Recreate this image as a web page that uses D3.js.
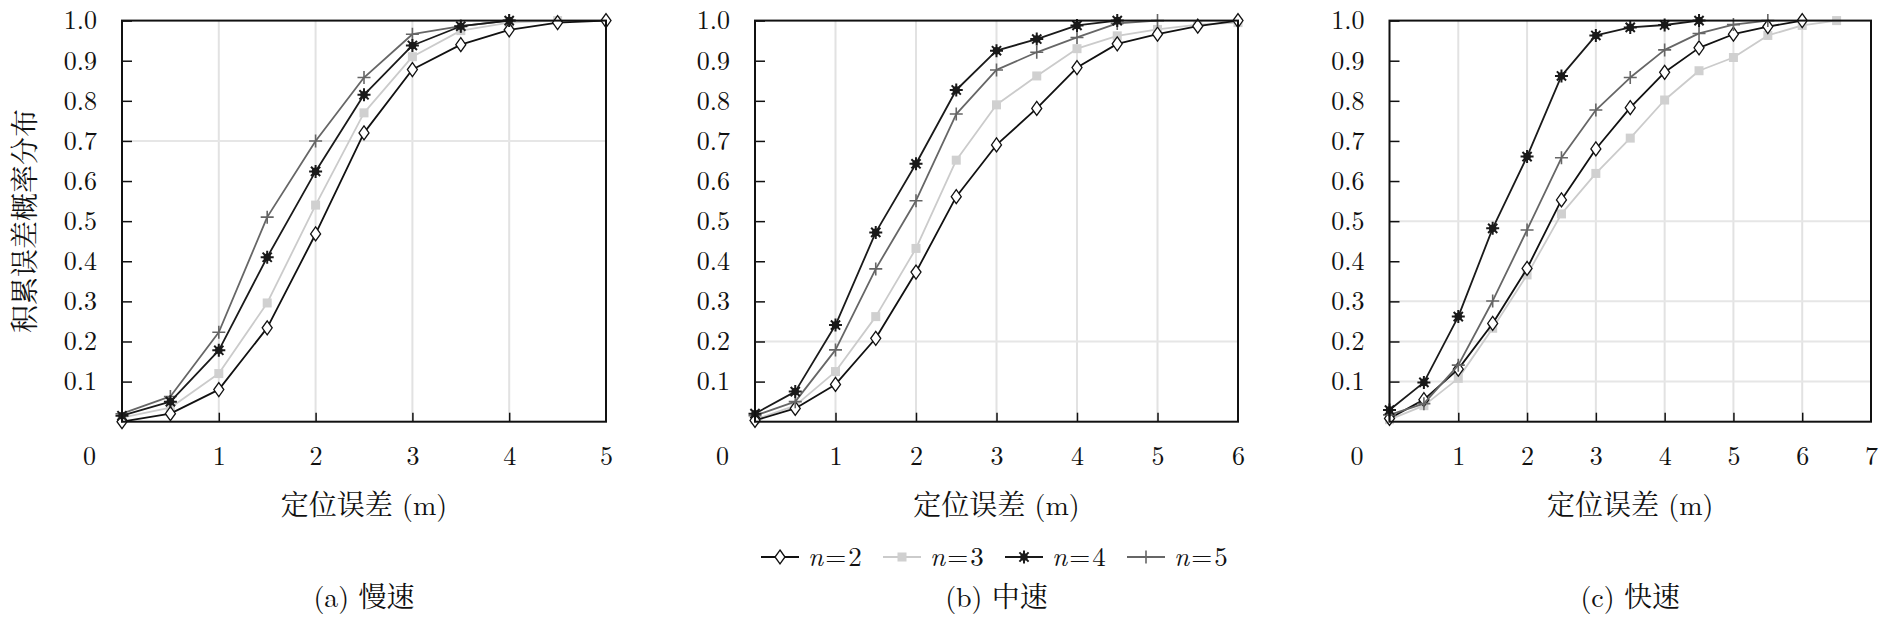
<!DOCTYPE html>
<html>
<head>
<meta charset="utf-8">
<script src="https://cdn.jsdelivr.net/npm/d3@7/dist/d3.min.js"></script>
<style>
  html, body { margin: 0; padding: 0; background: #ffffff; }
  svg { display: block; }
</style>
</head>
<body>
<svg id="chart" width="1890" height="620"></svg>
<script>
// ---------------- data ----------------
const errorSteps = [0, 0.5, 1, 1.5, 2, 2.5, 3, 3.5, 4, 4.5, 5, 5.5, 6, 6.5, 7];
const seriesNames = ["n=2", "n=3", "n=4", "n=5"];
const yTickValues = [0.1, 0.2, 0.3, 0.4, 0.5, 0.6, 0.7, 0.8, 0.9, 1.0];

const panelTitles = ["(a) 慢速", "(b) 中速", "(c) 快速"];
const panelXMax = [5, 6, 7];
const xAxisTitle = "定位误差 (m)";
const yAxisTitle = "积累误差概率分布";

// 慢速
const slowN2 = [0.00, 0.02, 0.08, 0.234, 0.468, 0.72, 0.878, 0.94, 0.977, 0.995, 1.0];
const slowN3 = [0.01, 0.035, 0.12, 0.296, 0.54, 0.77, 0.91, 0.975, 0.995, 1.0];
const slowN4 = [0.015, 0.05, 0.178, 0.41, 0.624, 0.815, 0.938, 0.986, 1.0];
const slowN5 = [0.02, 0.063, 0.223, 0.51, 0.70, 0.858, 0.966, 0.986, 1.0];
// 中速
const midN2 = [0.003, 0.033, 0.093, 0.208, 0.373, 0.561, 0.69, 0.781, 0.883, 0.942, 0.966, 0.986, 1.0];
const midN3 = [0.005, 0.04, 0.125, 0.262, 0.432, 0.652, 0.79, 0.862, 0.93, 0.962, 0.978, 0.99, 0.995];
const midN4 = [0.02, 0.075, 0.241, 0.472, 0.643, 0.827, 0.925, 0.954, 0.988, 1.0];
const midN5 = [0.015, 0.05, 0.179, 0.381, 0.551, 0.767, 0.877, 0.921, 0.958, 0.993, 1.0];
// 快速
const fastN2 = [0.008, 0.055, 0.131, 0.245, 0.382, 0.553, 0.68, 0.783, 0.871, 0.932, 0.966, 0.985, 1.0];
const fastN3 = [0.005, 0.04, 0.108, 0.233, 0.366, 0.518, 0.619, 0.707, 0.802, 0.875, 0.908, 0.963, 0.988, 1.0];
const fastN4 = [0.029, 0.098, 0.262, 0.482, 0.661, 0.862, 0.963, 0.983, 0.989, 1.0];
const fastN5 = [0.017, 0.045, 0.141, 0.301, 0.478, 0.658, 0.777, 0.858, 0.927, 0.968, 0.99, 1.0];

// faint horizontal grid levels visible in each panel
const gridA = [0.7];
const gridB = [0.2];
const gridC = [0.1, 0.2, 0.3, 0.5];

const panelSeries = [
  [slowN2, slowN3, slowN4, slowN5],
  [midN2, midN3, midN4, midN5],
  [fastN2, fastN3, fastN4, fastN5]
];
const panelGrids = [gridA, gridB, gridC];

// ---------------- layout & style ----------------
const layout = [
  { left: 122, right: 606 },
  { left: 755, right: 1238 },
  { left: 1389.5, right: 1871 }
];
const plotTop = 20.6, plotBottom = 421.7;
const SERIF = "'Latin Modern Roman', 'CMU Serif', 'Liberation Serif', 'DejaVu Serif', 'Times New Roman', serif";
const CJK = "'Latin Modern Roman', 'CMU Serif', 'Liberation Serif', 'DejaVu Serif', 'Noto Serif CJK SC', 'Noto Sans CJK SC', serif";

const styles = [
  { stroke: "#111111", width: 1.8, marker: "diamond" },   // n=2
  { stroke: "#cbcbcb", width: 1.8, marker: "square" },    // n=3
  { stroke: "#1a1a1a", width: 1.8, marker: "star" },      // n=4
  { stroke: "#666666", width: 1.8, marker: "plus" }       // n=5
];
const drawOrder = [1, 0, 3, 2];

const svg = d3.select("#chart");

function drawMarker(g, type, cx, cy, color) {
  const m = g.append("g").attr("transform", `translate(${cx},${cy})`);
  if (type === "diamond") {
    m.append("path").attr("d", "M0,-7L5,0L0,7L-5,0Z")
      .attr("fill", "#ffffff").attr("stroke", color).attr("stroke-width", 1.3);
  } else if (type === "square") {
    m.append("rect").attr("x", -4.5).attr("y", -4.5).attr("width", 9).attr("height", 9)
      .attr("fill", "#d0d0d0").attr("stroke", "none");
  } else if (type === "star") {
    let d = "";
    for (let k = 0; k < 4; k++) {
      const a = k * Math.PI / 4;
      const dx = 6.5 * Math.cos(a), dy = 6.5 * Math.sin(a);
      d += `M${-dx},${-dy}L${dx},${dy}`;
    }
    m.append("path").attr("d", d).attr("stroke", color).attr("stroke-width", 2);
    m.append("circle").attr("r", 3.8).attr("fill", color);
  } else if (type === "plus") {
    m.append("path").attr("d", "M-6.5,0H6.5M0,-6.5V6.5")
      .attr("stroke", color).attr("stroke-width", 1.6);
  }
}

panelSeries.forEach((seriesList, p) => {
  const L = layout[p];
  const x = d3.scaleLinear().domain([0, panelXMax[p]]).range([L.left, L.right]);
  const y = d3.scaleLinear().domain([0, 1]).range([plotBottom, plotTop]);
  const g = svg.append("g");

  // vertical grid
  const xTicks = d3.range(0, panelXMax[p] + 1);
  g.append("g").selectAll("line").data(xTicks.filter(t => t > 0 && t < panelXMax[p]))
    .join("line")
    .attr("x1", d => x(d)).attr("x2", d => x(d))
    .attr("y1", plotTop).attr("y2", plotBottom)
    .attr("stroke", "#e2e2e2").attr("stroke-width", 2);
  // horizontal grid
  g.append("g").selectAll("line").data(panelGrids[p])
    .join("line")
    .attr("x1", L.left).attr("x2", L.right)
    .attr("y1", d => y(d)).attr("y2", d => y(d))
    .attr("stroke", "#e6e6e6").attr("stroke-width", 2);

  // series
  drawOrder.forEach(si => {
    const vals = seriesList[si];
    const pts = vals.map((v, i) => [errorSteps[i], v]);
    const st = styles[si];
    g.append("path")
      .datum(pts)
      .attr("fill", "none")
      .attr("stroke", st.stroke)
      .attr("stroke-width", st.width)
      .attr("stroke-linejoin", "round")
      .attr("d", d3.line().x(d => x(d[0])).y(d => y(d[1])));
    const mg = g.append("g");
    pts.forEach(d => drawMarker(mg, st.marker, x(d[0]), y(d[1]), st.stroke));
  });

  // axes
  const yAxis = d3.axisLeft(y).tickValues(yTickValues).tickFormat(d3.format(".1f"))
    .tickSizeInner(-10).tickSizeOuter(0).tickPadding(25);
  const ya = g.append("g").attr("transform", `translate(${L.left},0)`).call(yAxis);
  ya.attr("font-family", null).attr("font-size", null);
  ya.select(".domain").remove();
  ya.selectAll(".tick line").attr("stroke", "#111").attr("stroke-width", 1.5);
  ya.selectAll("text").style("font-family", SERIF).style("font-size", "26px").attr("fill", "#111");

  const xAxis = d3.axisBottom(x).tickValues(xTicks).tickFormat(d3.format("d"))
    .tickSizeInner(-9).tickSizeOuter(0).tickPadding(25);
  const xa = g.append("g").attr("transform", `translate(0,${plotBottom})`).call(xAxis);
  xa.attr("font-family", null).attr("font-size", null);
  xa.select(".domain").remove();
  xa.selectAll(".tick line").attr("stroke", "#111").attr("stroke-width", 1.5);
  xa.selectAll(".tick").filter(d => d === 0 || d === panelXMax[p]).select("line").remove();
  xa.selectAll("text").style("font-family", SERIF).style("font-size", "26px").attr("fill", "#111");
  xa.selectAll(".tick").filter(d => d === 0).select("text").attr("x", -33);

  // border
  g.append("rect")
    .attr("x", L.left).attr("y", plotTop)
    .attr("width", L.right - L.left).attr("height", plotBottom - plotTop)
    .attr("fill", "none").attr("stroke", "#111").attr("stroke-width", 2);

  const cx = (L.left + L.right) / 2;
  g.append("text")
    .attr("x", cx).attr("y", 515).attr("text-anchor", "middle")
    .style("font-family", CJK).style("font-size", "28px").attr("fill", "#111").text(xAxisTitle);
  g.append("text")
    .attr("x", cx).attr("y", 607).attr("text-anchor", "middle")
    .style("font-family", CJK).style("font-size", "28px").attr("fill", "#111").text(panelTitles[p]);
});

// y axis title
svg.append("text")
  .attr("transform", "translate(35,221) rotate(-90)")
  .attr("text-anchor", "middle").style("font-family", CJK).style("font-size", "28px").attr("fill", "#111")
  .text(yAxisTitle);

// legend
const legend = svg.append("g").attr("transform", "translate(761,557)");
seriesNames.forEach((name, i) => {
  const st = styles[i];
  const lg = legend.append("g").attr("transform", `translate(${i * 122},0)`);
  lg.append("line").attr("x1", 0).attr("x2", 38).attr("y1", 0).attr("y2", 0)
    .attr("stroke", st.stroke).attr("stroke-width", st.width);
  drawMarker(lg, st.marker, 19, 0, st.stroke);
  const parts = name.split("=");
  const t = lg.append("text").attr("x", 47).attr("y", 9)
    .style("font-family", SERIF).style("font-size", "27px").attr("fill", "#111");
  t.append("tspan").attr("font-style", "italic").text(parts[0]);
  t.append("tspan").attr("dx", 2).text("=");
  t.append("tspan").attr("dx", 2).text(parts[1]);
});
</script>
</body>
</html>
